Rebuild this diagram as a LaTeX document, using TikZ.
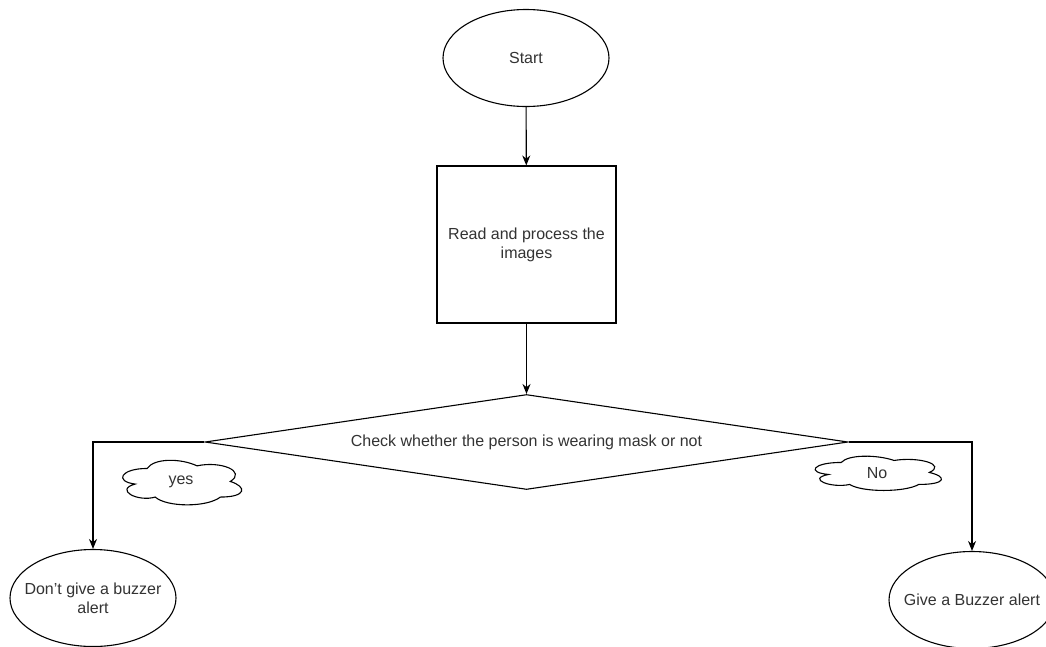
\documentclass[tikz,border=0pt]{standalone}
\usepackage{fontspec}
\setmainfont{Liberation Sans}
\usetikzlibrary{shapes.geometric,arrows.meta}
\tikzset{
  every node/.style={font=\fontsize{16}{19}\selectfont, text=black!80, line width=1.1pt},
  terminal/.style={draw, ellipse, minimum width=166pt, minimum height=97pt, align=center, inner xsep=-14pt, inner ysep=0pt},
  process/.style={draw, rectangle, minimum width=179pt, minimum height=157pt, align=center},
  decision/.style={draw, diamond, aspect=6.8, minimum width=643pt, minimum height=95pt, inner sep=0pt},
  remark/.style={rectangle, inner sep=0pt}
}
% cloud outline in the box of a node: node, width, height
\newcommand{\cloudline}[3]{%
  \begin{scope}[shift={(#1.north west)}, x=#2, y=-#3]
    \draw[line width=1.1pt] (0.25,0.25)
      .. controls (0.05,0.25) and (0,0.5) .. (0.16,0.55)
      .. controls (0,0.66) and (0.18,0.9) .. (0.31,0.8)
      .. controls (0.4,1) and (0.7,1) .. (0.8,0.8)
      .. controls (1,0.8) and (1,0.6) .. (0.875,0.5)
      .. controls (1,0.3) and (0.8,0.1) .. (0.625,0.2)
      .. controls (0.5,0.05) and (0.3,0.05) .. (0.25,0.25) -- cycle;
  \end{scope}}
\begin{document}
\begin{tikzpicture}[x=1pt, y=-1pt]
      \useasboundingbox (0,0) rectangle (1046,646);
      \fill[white] (0,0) rectangle (1046,646);
      \draw
        (526,58) node[terminal] (start){Start}
        (526.5,244.5) node[process] (read){Read and process the\\images}
        (526.5,442) node[decision] (check){Check whether the person is wearing mask or not}
        (181,482) node[remark, minimum width=133pt, minimum height=52pt] (yes){yes}
        (877,473) node[remark, minimum width=141pt, minimum height=40pt] (no){No}
        (93,598) node[terminal] (nogive){Don't give a buzzer\\alert}
        (972,600) node[terminal] (give){Give a Buzzer alert};
      \cloudline{yes}{133pt}{52pt}
      \cloudline{no}{141pt}{40pt}
      \begin{scope}[-{Stealth[length=10pt, width=8pt]}, line width=1.1pt]
        \draw (start) to (read);
        \draw (read) to (check);
        \draw (check.west) -| (nogive.north);
        \draw (check.east) -| (give.north);
      \end{scope}
    \end{tikzpicture}
\end{document}
